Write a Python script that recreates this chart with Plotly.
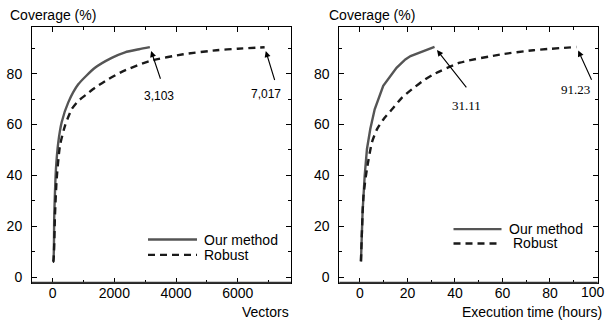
import plotly.graph_objects as go

# ---- data ----
vec_our_x = [0, 20, 52, 107, 182, 292, 506, 830, 1372, 1914, 2345, 2800, 3150]
vec_our_y = [6.0, 6.2, 24.4, 42.6, 53.0, 60.9, 68.7, 75.8, 82.3, 86.2, 88.4, 89.6, 90.4]
vec_rob_x = [0, 20, 75, 130, 237, 399, 616, 830, 1102, 1372, 1803, 2288, 3154, 4233, 5316, 6000, 6870]
vec_rob_y = [6.0, 6.2, 24.4, 38.7, 51.7, 59.5, 66.0, 69.3, 71.9, 74.5, 77.8, 81.0, 85.0, 87.6, 89.2, 89.8, 90.4]

hrs_our_x = [0.42, 1.1, 2.0, 2.95, 4.35, 6.2, 9.8, 13.5, 15.4, 19.1, 21.3, 31.4]
hrs_our_y = [6.2, 25.7, 40.0, 50.4, 58.2, 66.0, 75.2, 79.7, 82.3, 85.6, 86.9, 90.5]
hrs_rob_x = [0.42, 1.5, 2.95, 5.05, 7.2, 10.0, 13.5, 17.7, 21.9, 27.5, 30.9, 42.1, 59.0, 73.0, 91.2]
hrs_rob_y = [6.2, 32.2, 42.6, 53.0, 58.2, 62.2, 66.0, 70.6, 73.9, 77.8, 79.7, 84.3, 87.5, 89.2, 90.5]

end_labels_left = ["3,103", "7,017"]
end_labels_right = ["31.11", "91.23"]
series_names = ["Our method", "Robust"]
y_ticks = [0, 20, 40, 60, 80]
x1_ticks = [0, 2000, 4000, 6000]
x2_ticks = [0, 20, 40, 60, 80, 100]

SANS = "Liberation Sans, Arial, sans-serif"
SERIF = "Liberation Serif, Times New Roman, serif"
OUR_COLOR = "#555555"
ROB_COLOR = "#1a1a1a"
LW = 2.4
DASH = "7px,5px"

fig = go.Figure()
fig.add_trace(go.Scatter(x=vec_our_x, y=vec_our_y, mode="lines", name=series_names[0],
                         line=dict(color=OUR_COLOR, width=LW, shape="spline", smoothing=0.6),
                         xaxis="x", yaxis="y", showlegend=False))
fig.add_trace(go.Scatter(x=vec_rob_x, y=vec_rob_y, mode="lines", name=series_names[1],
                         line=dict(color=ROB_COLOR, width=LW, dash=DASH, shape="spline", smoothing=0.6),
                         xaxis="x", yaxis="y", showlegend=False))
fig.add_trace(go.Scatter(x=hrs_our_x, y=hrs_our_y, mode="lines", name=series_names[0],
                         line=dict(color=OUR_COLOR, width=LW), xaxis="x2", yaxis="y2", showlegend=False))
fig.add_trace(go.Scatter(x=hrs_rob_x, y=hrs_rob_y, mode="lines", name=series_names[1],
                         line=dict(color=ROB_COLOR, width=LW, dash=DASH, shape="spline", smoothing=0.6),
                         xaxis="x2", yaxis="y2", showlegend=False))

W, H = 607, 325
def px(xp):
    return xp / W
def py(yp):
    return 1 - yp / H

dom_y = [py(284.5), py(27)]
common_axis = dict(showgrid=False, zeroline=False, showline=True, linecolor="#000", linewidth=1,
                   mirror="allticks", ticks="inside", ticklen=5, tickcolor="#000", tickwidth=1,
                   tickfont=dict(family=SANS, size=14, color="#000"))

# the last tick label (100) sits on the page edge; it is drawn as an edge-anchored text below
x2_ticktext = [str(v) for v in x2_ticks[:-1]] + [""]

fig.update_layout(
    width=W, height=H, autosize=False,
    margin=dict(l=0, r=0, t=0, b=0),
    paper_bgcolor="white", plot_bgcolor="white",
    xaxis=dict(domain=[px(32), px(291)], range=[-670, 7725], tickvals=x1_ticks,
               minor=dict(dtick=1000, tick0=0, ticks="inside", ticklen=3, tickcolor="#000"),
               anchor="y", ticklabelstandoff=-3, **common_axis),
    yaxis=dict(domain=dom_y, range=[-2.2, 98.4], tickvals=y_ticks,
               minor=dict(dtick=10, tick0=0, ticks="inside", ticklen=3, tickcolor="#000"),
               anchor="x", ticklabelstandoff=6, **common_axis),
    xaxis2=dict(domain=[px(339.3), px(597.7)], range=[-8.7, 100.1], tickvals=x2_ticks,
                ticktext=x2_ticktext,
                minor=dict(dtick=10, tick0=0, ticks="inside", ticklen=3, tickcolor="#000"),
                anchor="y2", ticklabelstandoff=-3, **common_axis),
    yaxis2=dict(domain=dom_y, range=[-2.2, 98.4], tickvals=y_ticks,
                minor=dict(dtick=10, tick0=0, ticks="inside", ticklen=3, tickcolor="#000"),
                anchor="x2", ticklabelstandoff=6, **common_axis),
)

ann = []
ann.append(dict(text=str(x2_ticks[-1]), xref="paper", yref="paper", x=1.0, y=py(294),
                xanchor="right", yanchor="middle", showarrow=False, font=dict(family=SANS, size=14, color="#000")))
# axis titles
ann.append(dict(text="Coverage (%)", xref="paper", yref="paper", x=px(8), y=py(15),
                xanchor="left", yanchor="middle", showarrow=False, font=dict(family=SANS, size=14, color="#000")))
ann.append(dict(text="Coverage (%)", xref="paper", yref="paper", x=px(326.5), y=py(15),
                xanchor="left", yanchor="middle", showarrow=False, font=dict(family=SANS, size=14, color="#000")))
ann.append(dict(text="Vectors", xref="paper", yref="paper", x=px(291), y=py(313.5),
                xanchor="right", yanchor="middle", showarrow=False, font=dict(family=SANS, size=14, color="#000")))
ann.append(dict(text="Execution time (hours)", xref="paper", yref="paper", x=px(604), y=py(313.5),
                xanchor="right", yanchor="middle", showarrow=False, font=dict(family=SANS, size=14, color="#000")))

# end-point arrows (head at curve end, tail below-right)
def arrow(xr, yr, xe, ye, dx, dy):
    return dict(xref=xr, yref=yr, axref=xr, ayref=yr, x=xe, y=ye, ax=xe + dx, ay=ye + dy,
                text="", showarrow=True, arrowhead=2, arrowsize=1.1, arrowwidth=1.1,
                arrowcolor="#000", standoff=4)

ann.append(arrow("x", "y", vec_our_x[-1], vec_our_y[-1], 360, -13))
ann.append(arrow("x", "y", vec_rob_x[-1], vec_rob_y[-1], 340, -13.5))
ann.append(arrow("x2", "y2", hrs_our_x[-1], hrs_our_y[-1], 13.9, -16.5))
ann.append(arrow("x2", "y2", hrs_rob_x[-1], hrs_rob_y[-1], 6.6, -13.5))

ann.append(dict(text=end_labels_left[0], xref="x", yref="y", x=vec_our_x[-1] + 286, y=vec_our_y[-1] - 19.2,
                showarrow=False, font=dict(family=SANS, size=12, color="#000")))
ann.append(dict(text=end_labels_left[1], xref="x", yref="y", x=vec_rob_x[-1] + 34, y=vec_rob_y[-1] - 18.5,
                showarrow=False, font=dict(family=SANS, size=12, color="#000")))
ann.append(dict(text=end_labels_right[0], xref="x2", yref="y2", x=hrs_our_x[-1] + 13.4, y=hrs_our_y[-1] - 23.2,
                showarrow=False, font=dict(family=SERIF, size=13, color="#000")))
ann.append(dict(text=end_labels_right[1], xref="x2", yref="y2", x=hrs_rob_x[-1] - 0.5, y=hrs_rob_y[-1] - 16.6,
                showarrow=False, font=dict(family=SERIF, size=13, color="#000")))

# manual legends
shapes = []
def legend(x0, x1, y_our, y_rob, tx_our, tx_rob):
    shapes.append(dict(type="line", xref="paper", yref="paper", x0=px(x0), x1=px(x1), y0=py(y_our), y1=py(y_our),
                       line=dict(color=OUR_COLOR, width=LW)))
    shapes.append(dict(type="line", xref="paper", yref="paper", x0=px(x0), x1=px(x1), y0=py(y_rob), y1=py(y_rob),
                       line=dict(color=ROB_COLOR, width=LW, dash=DASH)))
    ann.append(dict(text=series_names[0], xref="paper", yref="paper", x=px(tx_our), y=py(y_our),
                    xanchor="left", yanchor="middle", showarrow=False, font=dict(family=SANS, size=14, color="#000")))
    ann.append(dict(text=series_names[1], xref="paper", yref="paper", x=px(tx_rob), y=py(y_rob),
                    xanchor="left", yanchor="middle", showarrow=False, font=dict(family=SANS, size=14, color="#000")))

legend(148, 197, 241, 256.5, 202, 202)
legend(453.5, 501.5, 230.5, 245, 507, 511)

# slightly heavier bottom axis line, as in the reference
for xr in ("x domain", "x2 domain"):
    yr = "y domain" if xr == "x domain" else "y2 domain"
    shapes.append(dict(type="line", xref=xr, yref=yr, x0=0, x1=1, y0=0, y1=0,
                       line=dict(color="#333333", width=2)))

fig.update_layout(annotations=ann, shapes=shapes)
post = (
    "document.documentElement.style.overflow='hidden';"
    "document.body.style.margin='0';document.body.style.overflow='hidden';"
)
fig.write_html("out.html", config={"displayModeBar": False}, post_script=post)
